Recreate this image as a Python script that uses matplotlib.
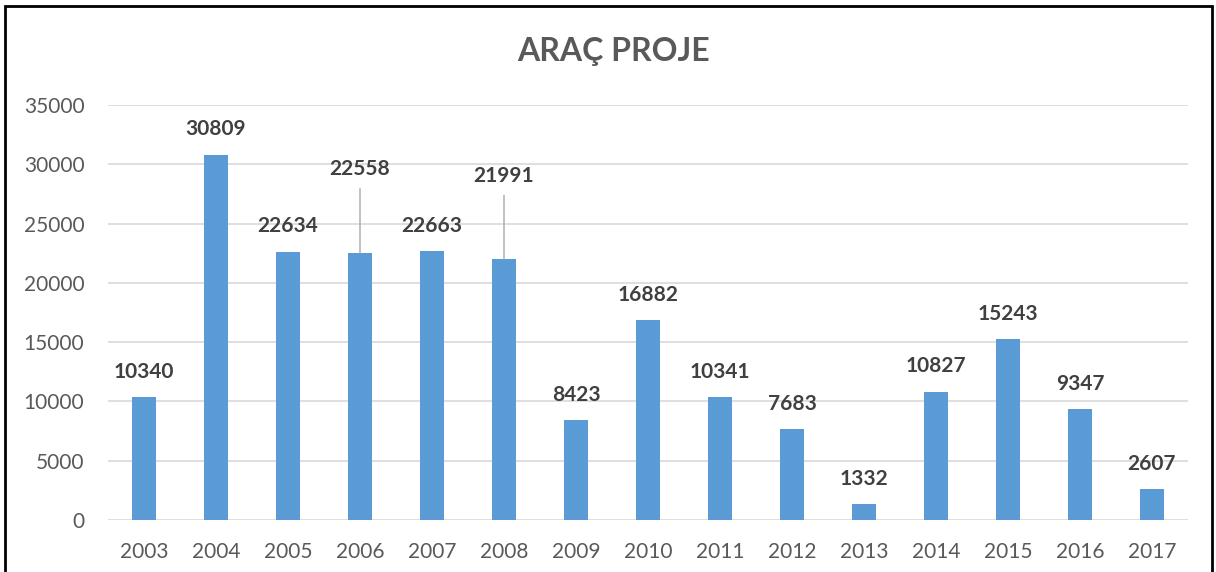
import matplotlib.pyplot as plt
from matplotlib.patches import Rectangle

# --- data ---
years = ["2003", "2004", "2005", "2006", "2007", "2008", "2009", "2010",
         "2011", "2012", "2013", "2014", "2015", "2016", "2017"]
values = [10340, 30809, 22634, 22558, 22663, 21991, 8423, 16882,
          10341, 7683, 1332, 10827, 15243, 9347, 2607]
y_ticks = [0, 5000, 10000, 15000, 20000, 25000, 30000, 35000]
leader_years = ["2006", "2008"]  # labels pulled up with a leader line

plt.rcParams['font.family'] = ['Lato', 'DejaVu Sans']

fig = plt.figure(figsize=(12.16, 5.72), dpi=100)
ax = fig.add_axes([108 / 1216, 52 / 572, 1080 / 1216, 415 / 572])

x = list(range(len(years)))
ax.bar(x, values, width=0.333, color="#5B9BD5", zorder=3)

ax.set_xlim(-0.5, len(years) - 0.5)
ax.set_ylim(0, 35000)
ax.set_yticks(y_ticks)
ax.set_xticks(x)
ax.set_xticklabels(years)
ax.grid(axis="y", color="#D9D9D9", linewidth=1.2, zorder=0)
for s in ax.spines.values():
    s.set_visible(False)
ax.tick_params(length=0, labelsize=15, labelcolor="#595959")
ax.tick_params(axis="y", pad=17)
ax.tick_params(axis="x", pad=16)

# --- data labels ---
for xi, yr, v in zip(x, years, values):
    if yr in leader_years:
        ax.annotate(str(v), xy=(xi, v), xytext=(0, 53), textcoords="offset points",
                    ha="center", va="bottom", fontsize=15, fontweight="bold",
                    color="#404040",
                    arrowprops=dict(arrowstyle="-", color="#A6A6A6", lw=1,
                                    shrinkA=5, shrinkB=0))
    else:
        ax.annotate(str(v), xy=(xi, v), xytext=(0, 11), textcoords="offset points",
                    ha="center", va="bottom", fontsize=15, fontweight="bold",
                    color="#404040")

fig.text(613 / 1216, 0.91, "ARAÇ PROJE", ha="center", va="center",
         fontsize=23, fontweight="bold", color="#595959")

# --- outer border ---
fig.patches.append(Rectangle((5 / 1216, -0.05), 1207 / 1216, 1.05 + 566 / 572 - 1,
                             transform=fig.transFigure, fill=False,
                             edgecolor="black", linewidth=2))

fig.savefig("out.png", dpi=100)
